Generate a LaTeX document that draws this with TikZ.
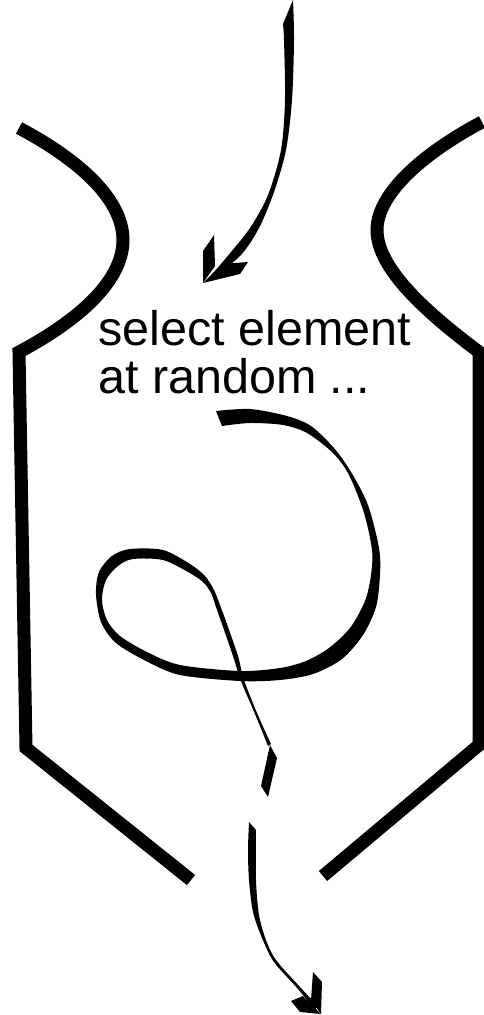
\documentclass[tikz,border=0pt]{standalone}
\usepackage{fontspec}
\setmainfont{Liberation Sans}
\begin{document}
\begin{tikzpicture}[x=1pt,y=-1pt,
  vessel/.style={line width=13pt, line join=miter},
  brush/.style={fill=black},
  caption/.style={font=\fontsize{48.5}{48}\selectfont, inner sep=0pt, anchor=base west}]
\useasboundingbox (0,0) rectangle (484,1015);
\clip (0,0) rectangle (484,1015);

% vessel walls
\draw[vessel] (19,128) .. controls (70,155) and (123,195) .. (123,240)
  .. controls (123,285) and (70,325) .. (19,352) -- (26,748) -- (191,880);
\draw[vessel] (482,122) .. controls (420,155) and (377,195) .. (377,230)
  .. controls (377,270) and (430,315) .. (479,352) -- (479,745) -- (323,876);

% text
\node[caption] (l1) at (98,345) {select element};
\node[caption] (l2) at (98,393) {at random ...};

% incoming arrow
\coordinate (intip) at (203,283);
\fill[brush] plot[smooth] coordinates {(293,0) (294,40) (292,100) (286,150) (274,192) (259,228) (241,255) (214,277)} -- plot[smooth] coordinates {(208,279) (226,258) (250,228) (268,195) (281,150) (285,100) (284,40) (283,24)} -- cycle;
\fill[brush] (intip) -- (203,251) -- (214,235) -- (215,266) -- cycle;
\fill[brush] (intip) -- (222,264) -- (248,262) -- (240,274) -- cycle;

% loop stroke
\fill[brush] plot[smooth] coordinates {(216,411) (250,409) (287,416) (311,426) (334,448) (351,472) (368,505) (379,548) (380,575) (376,607) (363,635) (342,659) (313,674) (280,680) (240,681) (180,675) (146,661) (116,643) (101,622) (96,594) (99,572) (112,556) (130,549) (163,550) (190,564) (205,576) (214,590) (220,605) (228,627) (238,656) (244,680) (257,713) (271,744)}
 -- plot[smooth] coordinates {(268,746) (255,714) (241,681) (233,656) (223,627) (216,607) (211,593) (203,582) (188,572) (163,560) (133,559) (118,566) (106,580) (102,600) (107,620) (120,636) (147,652) (180,665) (240,671) (280,668) (306,661) (329,648) (350,628) (365,601) (371,575) (372,550) (364,513) (349,475) (333,453) (307,433) (283,425) (250,423) (222,426)} -- cycle;
\fill[brush] (270,745) -- (277,758) -- (268,797) -- (261,786) -- cycle;

% outgoing arrow
\coordinate (outtip) at (321,1014);
\fill[brush] plot[smooth] coordinates {(249,822) (248,850) (249,880) (253,912) (262,938) (274,962) (298,989) (315,1010)} -- plot[smooth] coordinates {(318,1006) (300,987) (276,960) (266,940) (259,915) (256,880) (256,830)} -- cycle;
\fill[brush] (outtip) -- (311,1000) -- (313,972) -- (322,982) -- cycle;
\fill[brush] (outtip) -- (300,1012) -- (291,1001) -- (303,996) -- cycle;
\end{tikzpicture}
\end{document}
